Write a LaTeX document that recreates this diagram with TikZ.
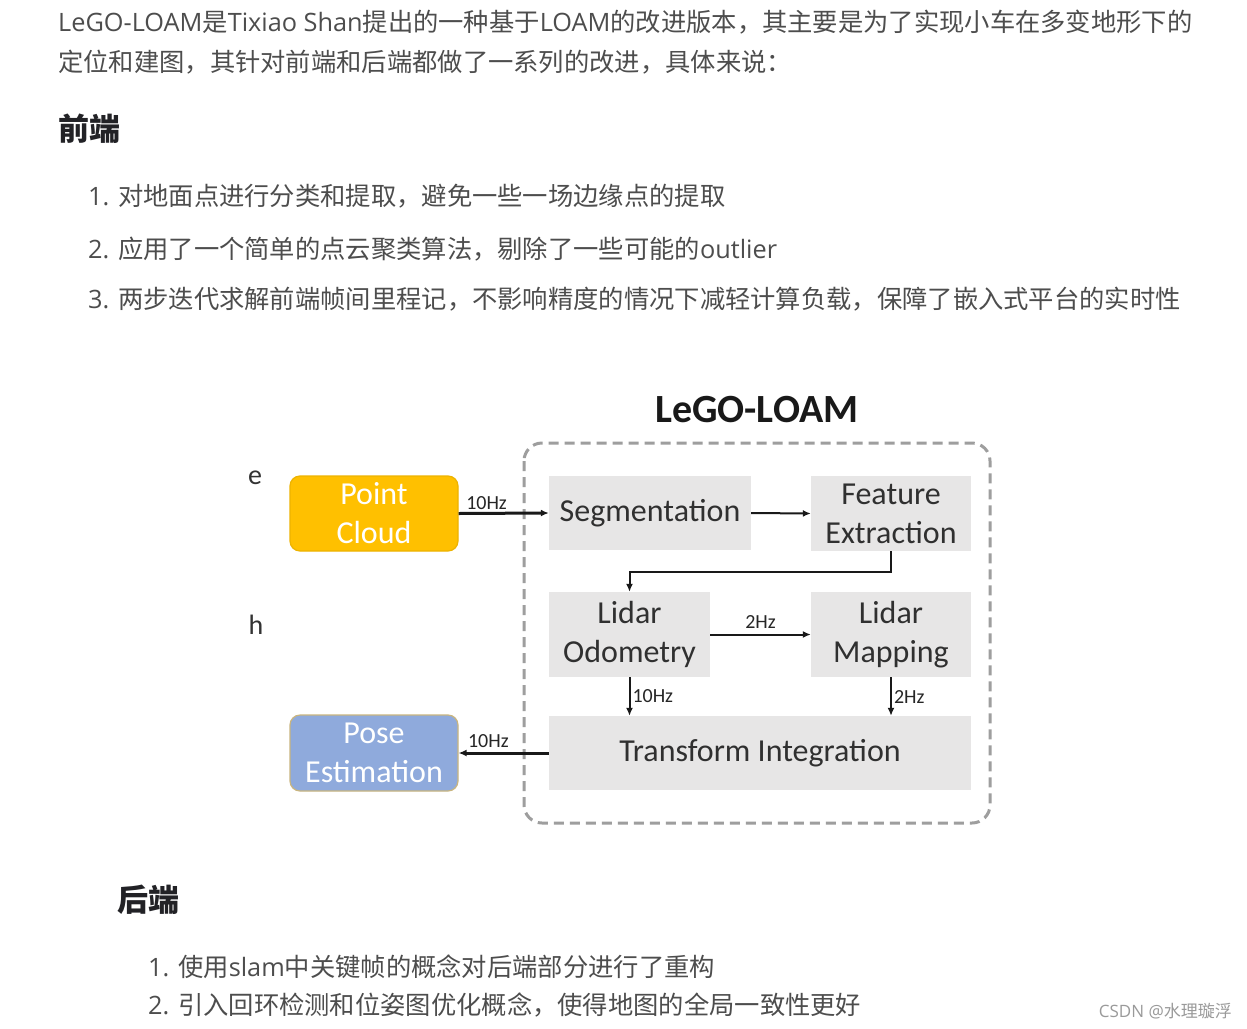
\documentclass[tikz,border=0pt]{standalone}
\usepackage{fontspec}
\setmainfont{Open Sans}
\newfontfamily\cjk{Noto Sans CJK SC}
\newfontfamily\diafont{Carlito}
\usetikzlibrary{arrows.meta}
\newcommand\C[1]{{\cjk #1}}
\definecolor{bodyc}{HTML}{4D4D4D}
\definecolor{headc}{HTML}{222226}
\definecolor{pcyellow}{HTML}{FFC000}
\definecolor{pcborder}{HTML}{EDB300}
\definecolor{poseblue}{HTML}{8FAADC}
\definecolor{poseborder}{HTML}{C9B57F}
\definecolor{boxgray}{HTML}{E7E6E6}
\definecolor{boxtext}{HTML}{303030}
\definecolor{dashc}{HTML}{9E9E9E}
\definecolor{wmc}{HTML}{9A9A9A}
\begin{document}
\begin{tikzpicture}[x=1pt,y=-1pt,
  body/.style={inner sep=0pt, anchor=base west, text=bodyc, font=\fontsize{25.3}{30}\selectfont},
  head/.style={inner sep=0pt, anchor=base west, text=headc, font=\fontsize{31}{36}\selectfont\bfseries},
  inbox/.style={draw=#1, line width=1.2pt, rounded corners=10pt, text=white, align=center,
    font=\diafont\fontsize{32}{39}\selectfont, inner sep=0pt},
  gbox/.style={fill=boxgray, text=boxtext, align=center, inner sep=0pt,
    font=\diafont\fontsize{32}{39}\selectfont},
  arr/.style={draw=black!90, line width=2pt, -{Latex[length=8pt,width=7pt]}},
  lbl/.style={text=black!85, font=\diafont\fontsize{20}{22}\selectfont, inner sep=2pt},
  stray/.style={font=\diafont\fontsize{28}{30}\selectfont, text=black!80, inner sep=0pt}
]
\fill[white] (0,0) rectangle (1247,1028);
\useasboundingbox (0,0) rectangle (1247,1028);

% ---------- page text ----------
\node[body] (t1) at (58,31) {LeGO-LOAM\C{是}Tixiao Shan\C{提出的一种基于}LOAM\C{的改进版本，其主要是为了实现小车在多变地形下的}};
\node[body] (t2) at (58,71) {\C{定位和建图，其针对前端和后端都做了一系列的改进，具体来说：}};
\node[head] (h1) at (58,140) {\C{前端}};
\node[body] (l1) at (88,205) {1. \C{对地面点进行分类和提取，避免一些一场边缘点的提取}};
\node[body] (l2) at (88,258) {2. \C{应用了一个简单的点云聚类算法，剔除了一些可能的}outlier};
\node[body] (l3) at (88,308) {3. \C{两步迭代求解前端帧间里程记，不影响精度的情况下减轻计算负载，保障了嵌入式平台的实时性}};
\node[head] (h2) at (117,911) {\C{后端}};
\node[body] (b1) at (148,976) {1. \C{使用}slam\C{中关键帧的概念对后端部分进行了重构}};
\node[body] (b2) at (148,1014) {2. \C{引入回环检测和位姿图优化概念，使得地图的全局一致性更好}};
\node[inner sep=0pt, anchor=base east, text=wmc, font=\fontsize{17}{20}\selectfont] (wm) at (1232,1017) {CSDN @\C{水理璇浮}};

% ---------- diagram ----------
\node[font=\diafont\fontsize{40}{44}\selectfont\bfseries, text=black!90, inner sep=0pt] (title) at (757,410) {LeGO-LOAM};
\draw[dashc, line width=3pt, dash pattern=on 10pt off 6pt, rounded corners=18pt] (524,443) rectangle (990,823);

\node[stray] (e) at (255,478) {e};
\node[stray] (h) at (256,625) {h};

\node[inbox=pcborder, fill=pcyellow, minimum width=168pt, minimum height=75pt] (pc) at (374,513.5) {Point\\Cloud};
\node[inbox=poseborder, fill=poseblue, minimum width=168pt, minimum height=76pt] (pose) at (374,753) {Pose\\Estimation};

\node[gbox, minimum width=202pt, minimum height=74pt] (seg) at (650,513) {Segmentation};
\node[gbox, minimum width=160pt, minimum height=75pt] (feat) at (891,513.5) {Feature\\Extraction};
\node[gbox, minimum width=161pt, minimum height=85pt] (odo) at (629.5,634.5) {Lidar\\Odometry};
\node[gbox, minimum width=160pt, minimum height=85pt] (map) at (891,634.5) {Lidar\\Mapping};
\node[gbox, minimum width=422pt, minimum height=74pt] (ti) at (760,753) {Transform Integration};

\draw[arr, line width=3pt] (pc.east) -- (seg.west) node[lbl, pos=0.31, above] {10Hz};
\draw[arr] (seg.east) -- (feat.west);
\draw[arr] (feat.south) -- ++(0,21) -| (odo.north);
\draw[arr] (odo.east) -- (map.west) node[lbl, midway, above, yshift=3pt] {2Hz};
\draw[arr] (odo.south) -- (odo.south |- ti.north) node[lbl, midway, right] {10Hz};
\draw[arr] (map.south) -- (map.south |- ti.north) node[lbl, midway, right] {2Hz};
\draw[arr, line width=3pt] (ti.west) -- (pose.east) node[lbl, pos=0.67, above, yshift=2pt] {10Hz};
\end{tikzpicture}
\end{document}
